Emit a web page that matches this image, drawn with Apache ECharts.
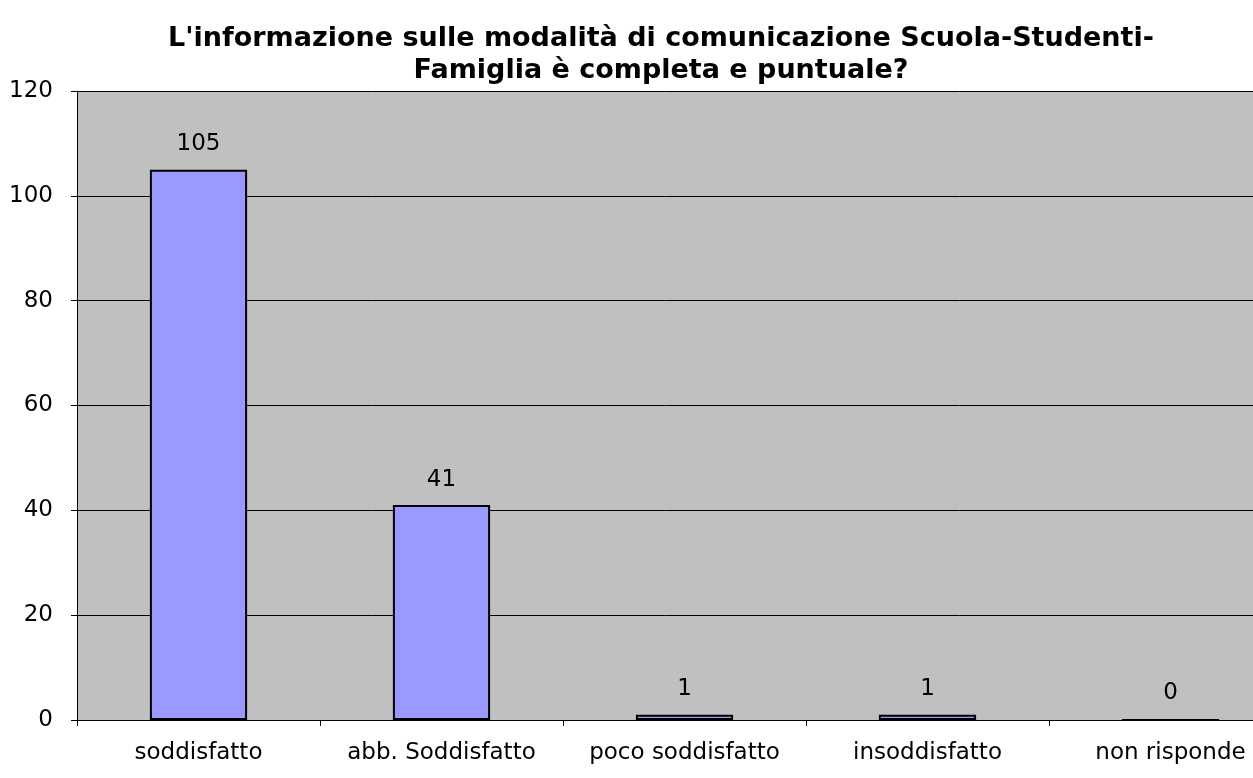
<!DOCTYPE html>
<html>
<head>
<meta charset="utf-8">
<script src="https://cdn.jsdelivr.net/npm/echarts@6/dist/echarts.min.js"></script>
<style>html,body{margin:0;padding:0;background:#fff;overflow:hidden;}#c{width:1253px;height:778px;}</style>
</head>
<body>
<div id="c"></div>
<script>
const titleText = "L'informazione sulle modalità di comunicazione Scuola-Studenti-\nFamiglia è completa e puntuale?";
const categories = ["soddisfatto", "abb. Soddisfatto", "poco soddisfatto", "insoddisfatto", "non risponde"];
const values = [105, 41, 1, 1, 0];
const yTicks = { min: 0, max: 120, interval: 20 };

const FONT = 'DejaVu Sans, sans-serif';
const chart = echarts.init(document.getElementById('c'), null, { renderer: 'canvas' });
chart.setOption({
  animation: false,
  backgroundColor: '#ffffff',
  title: {
    text: titleText,
    left: 656,
    textAlign: 'center',
    top: 18,
    textStyle: { fontFamily: FONT, fontSize: 27, fontWeight: 'bold', color: '#000', lineHeight: 32 }
  },
  grid: { left: 77, width: 1215, top: 91, height: 629, show: true, backgroundColor: '#c0c0c0', borderWidth: 0, outerBoundsMode: 'none', containLabel: false },
  xAxis: {
    type: 'category',
    data: categories,
    axisLine: { show: true, lineStyle: { color: '#000', width: 1 } },
    axisTick: { show: true, inside: false, length: 6, alignWithLabel: false, lineStyle: { color: '#000' } },
    axisLabel: { color: '#000', fontSize: 23, fontFamily: FONT, margin: 22, interval: 0 },
    splitLine: { show: false }
  },
  yAxis: {
    type: 'value',
    min: yTicks.min, max: yTicks.max, interval: yTicks.interval,
    axisLine: { show: true, lineStyle: { color: '#000', width: 1 } },
    axisTick: { show: true, length: 6, lineStyle: { color: '#000' } },
    axisLabel: { color: '#000', fontSize: 23, fontFamily: FONT, margin: 24 },
    splitLine: { show: true, lineStyle: { color: '#000', width: 1 } }
  },
  series: [{
    type: 'bar',
    data: values,
    barWidth: '40%',
    itemStyle: { color: '#9999ff', borderColor: '#000', borderWidth: 2 },
    label: { show: true, position: 'top', distance: 14, color: '#000', fontSize: 23, fontFamily: FONT }
  }]
});
</script>
</body>
</html>
